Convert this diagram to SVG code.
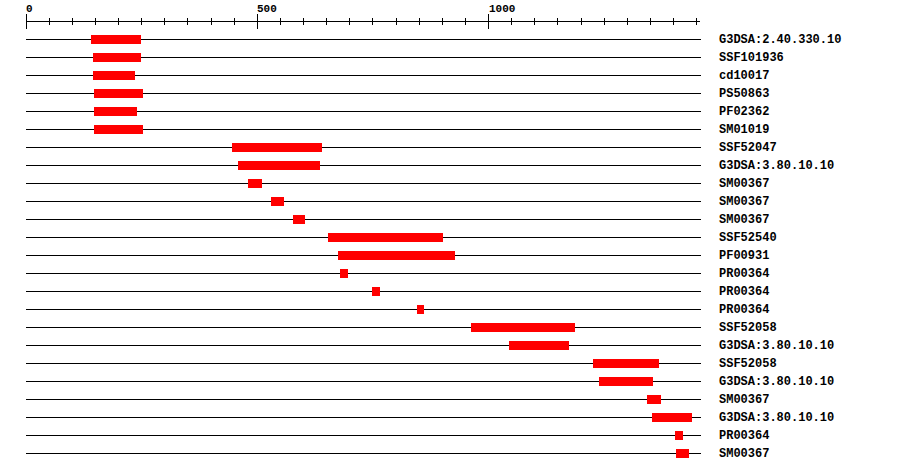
<svg xmlns="http://www.w3.org/2000/svg" width="900" height="472" viewBox="0 0 900 472">
<style>
.ax{stroke:#000;stroke-width:1;shape-rendering:crispEdges;fill:none}
.ln{stroke:#000;stroke-width:1;shape-rendering:crispEdges}
.bar{fill:#ff0000;shape-rendering:crispEdges}
.lab{font-family:"Liberation Mono","DejaVu Sans Mono",monospace;font-weight:bold;font-size:12px;fill:#000}
.num{font-family:"Liberation Mono","DejaVu Sans Mono",monospace;font-weight:bold;font-size:11px;fill:#000}
</style>
<rect width="900" height="472" fill="#fff"/>
<g id="axis">
<path class="ax" d="M26 21.5H700"/>
<path class="ax" d="M26.5 14V29M257.5 14V29M488.5 14V29"/>
<path class="ax" d="M49.5 18V25M72.5 18V25M95.5 18V25M118.5 18V25M141.5 18V25M164.5 18V25M187.5 18V25M211.5 18V25M234.5 18V25M280.5 18V25M303.5 18V25M326.5 18V25M349.5 18V25M372.5 18V25M396.5 18V25M419.5 18V25M442.5 18V25M465.5 18V25M511.5 18V25M534.5 18V25M557.5 18V25M581.5 18V25M604.5 18V25M627.5 18V25M650.5 18V25M673.5 18V25M696.5 18V25"/>
<text class="num" x="26" y="12">0</text>
<text class="num" x="257" y="12">500</text>
<text class="num" x="489" y="12">1000</text>
</g>
<g id="connectors">
<path class="ln" d="M26 39.5H701M26 57.5H701M26 75.5H701M26 93.5H701M26 111.5H701M26 129.5H701M26 147.5H701M26 165.5H701M26 183.5H701M26 201.5H701M26 219.5H701M26 237.5H701M26 255.5H701M26 273.5H701M26 291.5H701M26 309.5H701M26 327.5H701M26 345.5H701M26 363.5H701M26 381.5H701M26 399.5H701M26 417.5H701M26 435.5H701M26 453.5H701"/>
</g>
<g id="r0"><rect class="bar" x="91" y="35" width="50" height="9"/><text class="lab" x="719" y="43">G3DSA:2.40.330.10</text></g>
<g id="r1"><rect class="bar" x="93" y="53" width="48" height="9"/><text class="lab" x="719" y="61">SSF101936</text></g>
<g id="r2"><rect class="bar" x="93" y="71" width="42" height="9"/><text class="lab" x="719" y="79">cd10017</text></g>
<g id="r3"><rect class="bar" x="94" y="89" width="49" height="9"/><text class="lab" x="719" y="97">PS50863</text></g>
<g id="r4"><rect class="bar" x="94" y="107" width="43" height="9"/><text class="lab" x="719" y="115">PF02362</text></g>
<g id="r5"><rect class="bar" x="94" y="125" width="49" height="9"/><text class="lab" x="719" y="133">SM01019</text></g>
<g id="r6"><rect class="bar" x="232" y="143" width="90" height="9"/><text class="lab" x="719" y="151">SSF52047</text></g>
<g id="r7"><rect class="bar" x="238" y="161" width="82" height="9"/><text class="lab" x="719" y="169">G3DSA:3.80.10.10</text></g>
<g id="r8"><rect class="bar" x="248" y="179" width="14" height="9"/><text class="lab" x="719" y="187">SM00367</text></g>
<g id="r9"><rect class="bar" x="271" y="197" width="13" height="9"/><text class="lab" x="719" y="205">SM00367</text></g>
<g id="r10"><rect class="bar" x="293" y="215" width="12" height="9"/><text class="lab" x="719" y="223">SM00367</text></g>
<g id="r11"><rect class="bar" x="328" y="233" width="115" height="9"/><text class="lab" x="719" y="241">SSF52540</text></g>
<g id="r12"><rect class="bar" x="338" y="251" width="117" height="9"/><text class="lab" x="719" y="259">PF00931</text></g>
<g id="r13"><rect class="bar" x="340" y="269" width="8" height="9"/><text class="lab" x="719" y="277">PR00364</text></g>
<g id="r14"><rect class="bar" x="372" y="287" width="8" height="9"/><text class="lab" x="719" y="295">PR00364</text></g>
<g id="r15"><rect class="bar" x="417" y="305" width="7" height="9"/><text class="lab" x="719" y="313">PR00364</text></g>
<g id="r16"><rect class="bar" x="471" y="323" width="104" height="9"/><text class="lab" x="719" y="331">SSF52058</text></g>
<g id="r17"><rect class="bar" x="509" y="341" width="60" height="9"/><text class="lab" x="719" y="349">G3DSA:3.80.10.10</text></g>
<g id="r18"><rect class="bar" x="593" y="359" width="66" height="9"/><text class="lab" x="719" y="367">SSF52058</text></g>
<g id="r19"><rect class="bar" x="599" y="377" width="54" height="9"/><text class="lab" x="719" y="385">G3DSA:3.80.10.10</text></g>
<g id="r20"><rect class="bar" x="647" y="395" width="14" height="9"/><text class="lab" x="719" y="403">SM00367</text></g>
<g id="r21"><rect class="bar" x="652" y="413" width="40" height="9"/><text class="lab" x="719" y="421">G3DSA:3.80.10.10</text></g>
<g id="r22"><rect class="bar" x="675" y="431" width="8" height="9"/><text class="lab" x="719" y="439">PR00364</text></g>
<g id="r23"><rect class="bar" x="676" y="449" width="13" height="9"/><text class="lab" x="719" y="457">SM00367</text></g>
</svg>
